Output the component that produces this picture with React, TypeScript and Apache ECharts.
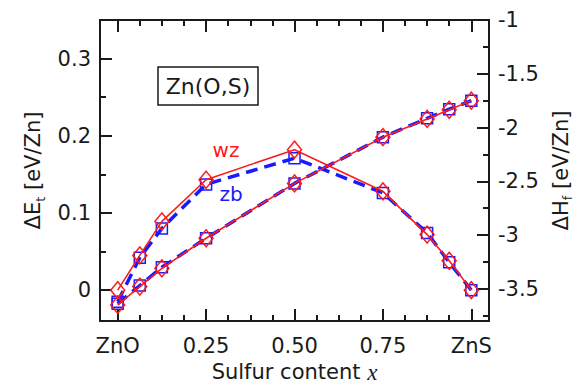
import React, { useEffect, useRef } from "react";
import * as echarts from "echarts";

const sulfurX = [0, 0.0625, 0.125, 0.25, 0.5, 0.75, 0.875, 0.9375, 1];
const wzEt = [0, 0.045, 0.089, 0.143, 0.182, 0.128, 0.072, 0.038, 0];
const zbEt = [-0.015, 0.042, 0.08, 0.137, 0.171, 0.126, 0.074, 0.036, 0];
const wzHf = [-3.65, -3.48, -3.31, -3.03, -2.52, -2.09, -1.92, -1.835, -1.75];
const zbHf = [-3.64, -3.47, -3.3, -3.03, -2.52, -2.09, -1.915, -1.83, -1.75];

const xTickValues = [0, 0.25, 0.5, 0.75, 1];
const xTickLabels = ["ZnO", "0.25", "0.50", "0.75", "ZnS"];
const xMinorTicks = [0.0625, 0.125, 0.1875, 0.3125, 0.375, 0.4375, 0.5625, 0.625, 0.6875, 0.8125, 0.875, 0.9375];
const leftTickValues = [0, 0.1, 0.2, 0.3];
const leftMinorTicks = [0.05, 0.15, 0.25];
const rightTickValues = [-1, -1.5, -2, -2.5, -3, -3.5];
const rightMinorTicks = [-1.25, -1.75, -2.25, -2.75, -3.25, -3.75];

const RED = "#ff1a1a";
const BLUE = "#1a1aff";
const INK = "#1a1a1a";
const FONT = "DejaVu Sans";

const pairs = (ys: number[]) => sulfurX.map((x, i) => [x, ys[i]]);

export default function App() {
  const ref = useRef<HTMLDivElement>(null);
  useEffect(() => {
    if (!ref.current) return;
    const chart = echarts.init(ref.current, undefined, { renderer: "svg" });
    const axisLine = { show: true, onZero: false, lineStyle: { color: INK, width: 2 } };
    const noLine = { show: false, onZero: false };
    const labelStyle = { color: INK, fontSize: 21, fontFamily: FONT };
    const xBase = { type: "value", min: -0.05, max: 1.05, gridIndex: 0, splitLine: { show: false }, axisLine };
    const yLeftBase = { type: "value", min: -0.04, max: 0.35, splitLine: { show: false }, axisLine };
    const yRightBase = { type: "value", min: -3.8, max: -1, splitLine: { show: false }, axisLine };
    const major = (vals: number[]) => ({ show: true, inside: true, length: 12, customValues: vals, lineStyle: { color: INK, width: 2 } });
    const minor = (vals: number[]) => ({ show: true, inside: true, length: 6, customValues: vals, lineStyle: { color: INK, width: 2 } });

    const line = (name: string, ys: number[], yIdx: number, color: string, dashed: boolean) => ({
      name,
      type: "line",
      xAxisIndex: 0,
      yAxisIndex: yIdx,
      data: pairs(ys),
      symbol: dashed ? "rect" : "diamond",
      symbolSize: dashed ? [11, 11] : [14, 17],
      showAllSymbol: true,
      lineStyle: dashed ? { color, width: 3.5, type: [12, 7] } : { color, width: 1.6 },
      itemStyle: { color: "rgba(0,0,0,0)", borderColor: color, borderWidth: 1.5 },
      z: dashed ? 2 : 3,
    });

    chart.setOption({
      animation: false,
      backgroundColor: "#ffffff",
      grid: { left: 100, right: 85, top: 20, bottom: 62, containLabel: false, outerBoundsMode: "none" },
      xAxis: [
        {
          ...xBase,
          position: "bottom",
          axisTick: major(xTickValues),
          axisLabel: {
            ...labelStyle,
            margin: 14,
            customValues: xTickValues,
            formatter: (v: number) => {
              const i = xTickValues.findIndex((t) => Math.abs(t - v) < 1e-9);
              return i >= 0 ? xTickLabels[i] : "";
            },
          },
          name: "{a|Sulfur content }{i|x}",
          nameLocation: "middle",
          nameGap: 22,
          nameTextStyle: {
            rich: {
              a: { fontSize: 21, fontFamily: FONT, color: INK },
              i: { fontSize: 23, fontFamily: "Liberation Serif", fontStyle: "italic", color: INK },
            },
          },
        },
        { ...xBase, position: "bottom", axisLine: noLine, axisTick: minor(xMinorTicks), axisLabel: { show: false } },
        { ...xBase, position: "top", axisTick: major(xTickValues), axisLabel: { show: false } },
        { ...xBase, position: "top", axisLine: noLine, axisTick: minor(xMinorTicks), axisLabel: { show: false } },
      ],
      yAxis: [
        {
          ...yLeftBase,
          position: "left",
          axisTick: major(leftTickValues),
          axisLabel: {
            ...labelStyle,
            margin: 9,
            customValues: leftTickValues,
            formatter: (v: number) => (Math.abs(v) < 1e-9 ? "0" : v.toFixed(1)),
          },
          name: "{a|ΔE}{s|t}{a| [eV/Zn]}",
          nameLocation: "middle",
          nameGap: 52,
          nameTextStyle: {
            rich: {
              a: { fontSize: 21, fontFamily: FONT, color: INK },
              s: { fontSize: 13, fontFamily: FONT, color: INK, verticalAlign: "bottom", padding: [14, 0, 0, 0] },
            },
          },
        },
        {
          ...yRightBase,
          position: "right",
          axisTick: major(rightTickValues),
          axisLabel: {
            ...labelStyle,
            margin: 9,
            customValues: rightTickValues,
            formatter: (v: number) => String(v),
          },
          name: "{a|ΔH}{s|f}{a| [eV/Zn]}",
          nameLocation: "middle",
          nameGap: 58,
          nameTextStyle: {
            rich: {
              a: { fontSize: 21, fontFamily: FONT, color: INK },
              s: { fontSize: 13, fontFamily: FONT, color: INK, verticalAlign: "bottom", padding: [14, 0, 0, 0] },
            },
          },
        },
        { ...yLeftBase, position: "left", axisLine: noLine, axisTick: minor(leftMinorTicks), axisLabel: { show: false } },
        { ...yRightBase, position: "right", axisLine: noLine, axisTick: minor(rightMinorTicks), axisLabel: { show: false } },
      ],
      graphic: [
        {
          type: "rect",
          shape: { x: 158, y: 67, width: 100, height: 38 },
          style: { fill: "#ffffff", stroke: INK, lineWidth: 1.5 },
          z: 10,
        },
        {
          type: "text",
          x: 208,
          y: 86,
          style: { text: "Zn(O,S)", fontSize: 22, fontFamily: FONT, fill: INK, textAlign: "center", textVerticalAlign: "middle" },
          z: 11,
        },
        {
          type: "text",
          x: 226,
          y: 150,
          style: { text: "wz", fontSize: 20, fontFamily: FONT, fill: RED, textAlign: "center", textVerticalAlign: "middle" },
          z: 11,
        },
        {
          type: "text",
          x: 231,
          y: 194,
          style: { text: "zb", fontSize: 20, fontFamily: FONT, fill: BLUE, textAlign: "center", textVerticalAlign: "middle" },
          z: 11,
        },
      ],
      series: [
        line("zb ΔEt", zbEt, 0, BLUE, true),
        line("zb ΔHf", zbHf, 1, BLUE, true),
        line("wz ΔEt", wzEt, 0, RED, false),
        line("wz ΔHf", wzHf, 1, RED, false),
      ],
    });
    return () => chart.dispose();
  }, []);
  return <div ref={ref} style={{ position: "fixed", left: 0, top: 0, width: 574, height: 383, background: "#fff" }} />;
}
